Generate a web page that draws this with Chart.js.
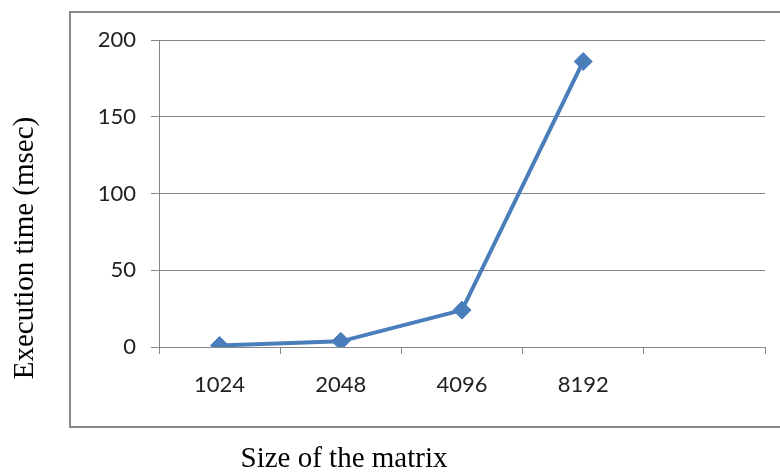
<!DOCTYPE html>
<html>
<head>
<meta charset="utf-8">
<script src="https://cdn.jsdelivr.net/npm/chart.js@4"></script>
<style>
  html, body { margin: 0; padding: 0; background: #fff; }
  #wrap { position: relative; width: 780px; height: 474px; }
</style>
</head>
<body>
<div id="wrap"><canvas id="chart" width="780" height="474"></canvas></div>
<script>
// data
const sizes = ['1024', '2048', '4096', '8192', ''];
const execTimes = [1, 3.7, 24, 186, null];
const yTicks = [0, 50, 100, 150, 200];

const xTitle = 'Size of the matrix';
const yTitle = 'Execution time (msec)';

const gridGray = '#868686';
const lineBlue = '#4a7ebb';

// frame round the plot + axis titles (placed like the Excel original)
const decorations = {
    id: 'decorations',
    beforeDraw(chart) {
        const ctx = chart.ctx;
        ctx.save();
        ctx.strokeStyle = '#8a8a8a';
        ctx.lineWidth = 2;
        ctx.beginPath();
        ctx.moveTo(790, 12);
        ctx.lineTo(70, 12);
        ctx.lineTo(70, 427);
        ctx.lineTo(790, 427);
        ctx.stroke();
        ctx.restore();
    },
    afterDraw(chart) {
        const ctx = chart.ctx;
        ctx.save();
        ctx.fillStyle = '#000';
        ctx.font = '29px "Liberation Serif", "Times New Roman", serif';
        ctx.textAlign = 'center';
        ctx.textBaseline = 'middle';
        ctx.fillText(xTitle, 344, 459);
        ctx.translate(25, 248);
        ctx.rotate(-Math.PI / 2);
        ctx.fillText(yTitle, 0, 0);
        ctx.restore();
    }
};

new Chart(document.getElementById('chart').getContext('2d'), {
    type: 'line',
    data: {
        labels: sizes,
        datasets: [{
            label: 'Execution time',
            data: execTimes,
            borderColor: lineBlue,
            backgroundColor: lineBlue,
            borderWidth: 4,
            pointStyle: 'rectRot',
            pointRadius: 9,
            pointHoverRadius: 9,
            pointBorderWidth: 1,
            tension: 0
        }]
    },
    options: {
        responsive: false,
        animation: false,
        layout: { padding: { left: 0, top: 40, right: 15, bottom: 0 } },
        plugins: {
            legend: { display: false },
            tooltip: { enabled: false }
        },
        scales: {
            x: {
                offset: true,
                grid: {
                    offset: true,
                    drawOnChartArea: false,
                    tickLength: 7,
                    color: gridGray
                },
                border: { color: gridGray, width: 1 },
                ticks: {
                    padding: 18,
                    color: '#222',
                    font: { family: 'Lato, "Open Sans", sans-serif', size: 22 },
                    maxRotation: 0,
                    autoSkip: false
                },
                afterFit(scale) { scale.height = 127; }
            },
            y: {
                min: 0,
                max: 200,
                afterBuildTicks(scale) { scale.ticks = yTicks.map(v => ({ value: v })); },
                grid: { color: gridGray, tickLength: 8 },
                border: { color: gridGray, width: 1 },
                ticks: {
                    padding: 15,
                    color: '#222',
                    font: { family: 'Lato, "Open Sans", sans-serif', size: 22 }
                },
                afterFit(scale) { scale.width = 159; }
            }
        }
    },
    plugins: [decorations]
});
</script>
</body>
</html>
